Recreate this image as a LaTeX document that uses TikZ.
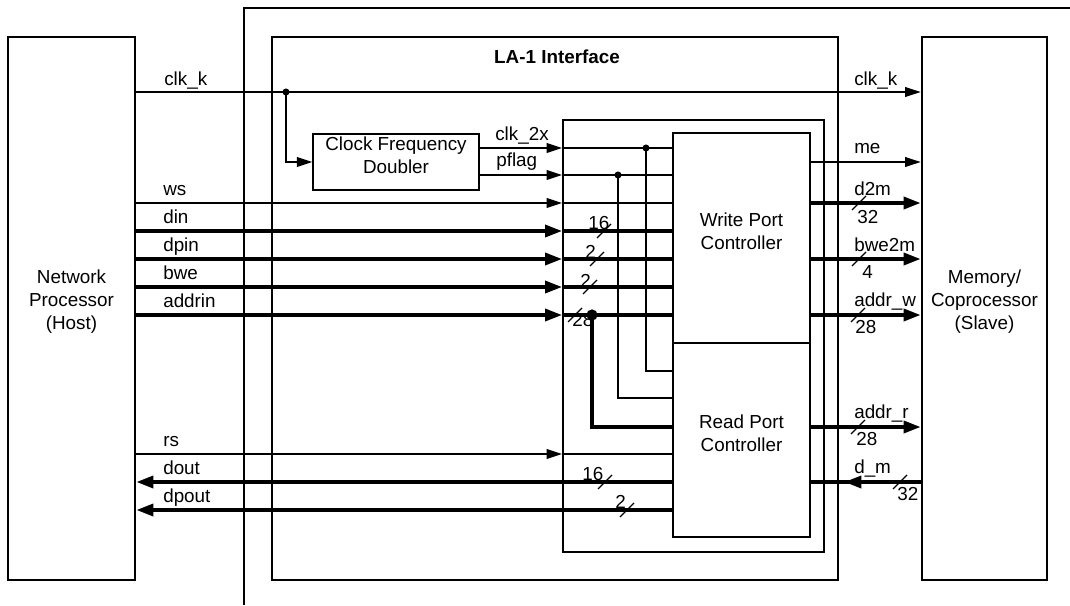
\documentclass[tikz,border=0pt]{standalone}
\usepackage{fontspec}
\setmainfont{Liberation Sans}
\usetikzlibrary{arrows.meta, fit, calc}

\tikzset{
  blk/.style={draw, line width=2pt, inner sep=0pt, align=center},
  subblk/.style={draw, line width=1.1pt, inner sep=0pt, align=center},
  sig/.style={line width=0.9pt},
  bus/.style={line width=2.4pt},
  sigin/.style={sig, -{Triangle[length=11pt, width=7pt]}},
  busin/.style={bus, -{Triangle[length=12pt, width=8.5pt]}},
  jdot/.style={circle, fill, inner sep=0pt, minimum size=5pt},
  lbl/.style={anchor=base west, inner sep=0pt},
}

% bus width: slash at #2, number #4 with base west at #3
\newcommand{\buswidth}[4]{%
  \draw[sig] ($#2+(-7,7)$) -- ($#2+(7,-7)$);
  \node[lbl] (#1) at #3 {#4};}

\begin{document}
\begin{tikzpicture}[x=0.025cm, y=-0.025cm,
    every node/.append style={font=\fontsize{13.4}{16.5}\selectfont}]
  \useasboundingbox (0,0) rectangle (1070,605);

  % Blocks
  \node[blk, fit={(8,37) (135,580)}] (host) {Network\\Processor\\(Host)};
  \node[blk, fit={(922,37) (1047,580)}] (slave) {Memory/\\Coprocessor\\(Slave)};
  \node[blk, fit={(272,37) (838,580)}] (la) {};
  \node[anchor=base, font=\fontsize{13.4}{16.5}\selectfont\bfseries] (latitle) at (557,63) {LA-1 Interface};
  \node[draw, line width=1.4pt, inner sep=0pt, fit={(563,120) (824,552)}] (ctl) {};
  \node[subblk, fit={(673,133) (810,343)}] (wpc) {Write Port\\Controller};
  \node[subblk, fit={(673,343) (810,537)}] (rpc) {Read Port\\Controller};
  \node[subblk, fit={(313,134) (479,190)}] (cfd) {Clock Frequency\\Doubler};

  % Board frame
  \draw[line width=2pt] (1070,8) -- (244,8) -- (244,605);

  % Signal levels
  \coordinate (clkk) at (0,92);
  \coordinate (clkx) at (0,148);
  \coordinate (me) at (0,162);
  \coordinate (pflag) at (0,175);
  \coordinate (ws) at (0,203);
  \coordinate (d2m) at (0,203);
  \coordinate (din) at (0,231);
  \coordinate (dpin) at (0,259);
  \coordinate (bwe2m) at (0,259);
  \coordinate (bwe) at (0,287);
  \coordinate (addrin) at (0,315);
  \coordinate (addrw) at (0,315);
  \coordinate (clkxr) at (0,371);
  \coordinate (pflagr) at (0,398);
  \coordinate (addrr) at (0,427);
  \coordinate (rs) at (0,454);
  \coordinate (dout) at (0,482);
  \coordinate (dm) at (0,482);
  \coordinate (dpout) at (0,510);

  % Junctions
  \node[jdot] (clkj) at (286,92) {};
  \node[jdot] (clkxj) at (646,148) {};
  \node[jdot] (pflagj) at (618,175) {};
  \node[jdot, minimum size=8pt] (addrj) at (592,315) {};

  % Clock
  \draw[sigin] (host.east |- clkk) -- (slave.west |- clkk);
  \draw[sigin] (clkj.center) |- (cfd.west);
  \draw[sigin] (cfd.east |- clkx) -- (ctl.west |- clkx);
  \draw[sig] (ctl.west |- clkx) -- (wpc.west |- clkx);
  \draw[sig] (clkxj.center) |- (rpc.west |- clkxr);
  \draw[sigin] (cfd.east |- pflag) -- (ctl.west |- pflag);
  \draw[sig] (ctl.west |- pflag) -- (wpc.west |- pflag);
  \draw[sig] (pflagj.center) |- (rpc.west |- pflagr);

  % Write side
  \draw[sigin] (host.east |- ws) -- (ctl.west |- ws);
  \draw[sig] (ctl.west |- ws) -- (wpc.west |- ws);
  \draw[busin] (host.east |- din) -- (ctl.west |- din);
  \draw[bus] (ctl.west |- din) -- (wpc.west |- din);
  \draw[busin] (host.east |- dpin) -- (ctl.west |- dpin);
  \draw[bus] (ctl.west |- dpin) -- (wpc.west |- dpin);
  \draw[busin] (host.east |- bwe) -- (ctl.west |- bwe);
  \draw[bus] (ctl.west |- bwe) -- (wpc.west |- bwe);
  \draw[busin] (host.east |- addrin) -- (ctl.west |- addrin);
  \draw[bus] (ctl.west |- addrin) -- (wpc.west |- addrin);
  \draw[bus] (addrj.center) |- (rpc.west |- addrr);

  % Read side
  \draw[sigin] (host.east |- rs) -- (ctl.west |- rs);
  \draw[sig] (ctl.west |- rs) -- (rpc.west |- rs);
  \draw[busin] (rpc.west |- dout) -- (host.east |- dout);
  \draw[busin] (rpc.west |- dpout) -- (host.east |- dpout);

  % Memory side
  \draw[sigin] (wpc.east |- me) -- (slave.west |- me);
  \draw[busin] (wpc.east |- d2m) -- (slave.west |- d2m);
  \draw[busin] (wpc.east |- bwe2m) -- (slave.west |- bwe2m);
  \draw[busin] (wpc.east |- addrw) -- (slave.west |- addrw);
  \draw[busin] (rpc.east |- addrr) -- (slave.west |- addrr);
  \draw[bus] (slave.west |- dm) -- (rpc.east |- dm);
  \coordinate (dmtip) at ($(la.east |- dm)+(5,0)$);
  \draw[busin] (slave.west |- dm) -- (dmtip);

  % Labels
  \node[lbl] (lclkk) at (164,85) {clk\_k};
  \node[lbl] (lws) at (163,195) {ws};
  \node[lbl] (ldin) at (163,223) {din};
  \node[lbl] (ldpin) at (163,251) {dpin};
  \node[lbl] (lbwe) at (163,279) {bwe};
  \node[lbl] (laddrin) at (163,307) {addrin};
  \node[lbl] (lrs) at (163,446) {rs};
  \node[lbl] (ldout) at (163,474) {dout};
  \node[lbl] (ldpout) at (163,502) {dpout};
  \node[lbl] (lclkx) at (495,140) {clk\_2x};
  \node[lbl] (lpflag) at (496,166) {pflag};
  \node[lbl] (rclkk) at (854,85) {clk\_k};
  \node[lbl] (rme) at (854,153) {me};
  \node[lbl] (rd2m) at (854,195) {d2m};
  \node[lbl] (rbwe2m) at (854,251) {bwe2m};
  \node[lbl] (raddrw) at (854,306) {addr\_w};
  \node[lbl] (raddrr) at (854,418) {addr\_r};
  \node[lbl] (rdm) at (854,473) {d\_m};

  % Bus widths
  \buswidth{wdin}{(604,231)}{(588,229)}{16}
  \buswidth{wdpin}{(597,259)}{(585,258)}{2}
  \buswidth{wbwe}{(590,287)}{(580,287)}{2}
  \buswidth{waddrin}{(575,315)}{(572,326)}{28}
  \buswidth{wdout}{(605,482)}{(582,480)}{16}
  \buswidth{wdpout}{(627,510)}{(615,508)}{2}
  \buswidth{wd2m}{(859,203)}{(857,223)}{32}
  \buswidth{wbwe2m}{(859,259)}{(862,278)}{4}
  \buswidth{waddrw}{(858,315)}{(855,333)}{28}
  \buswidth{waddrr}{(858,427)}{(856,445)}{28}
  \buswidth{wdm}{(900,482)}{(897,500)}{32}
\end{tikzpicture}
\end{document}
